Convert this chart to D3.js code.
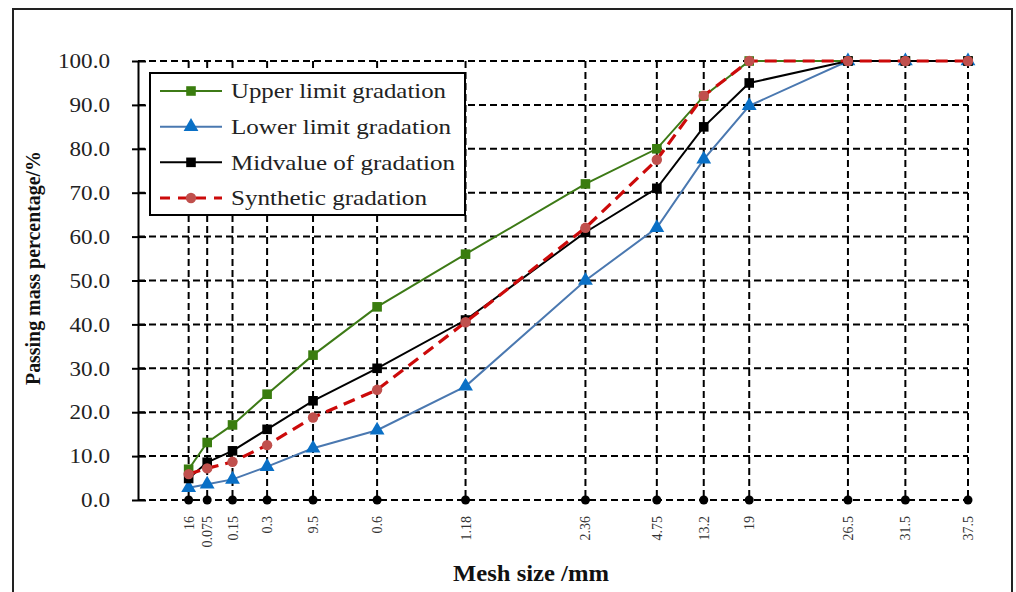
<!DOCTYPE html>
<html>
<head>
<meta charset="utf-8">
<script src="https://cdnjs.cloudflare.com/ajax/libs/d3/7.8.5/d3.min.js"></script>
<style>
  body { margin: 0; background: #fff; }
</style>
</head>
<body>
<script>
// sieve sizes (mm) and the tick labels as printed under them
var sizes = [0.075, 0.15, 0.3, 0.6, 1.18, 2.36, 4.75, 9.5, 13.2, 16, 19, 26.5, 31.5, 37.5];
var tickLabels = ["16", "0.075", "0.15", "0.3", "9.5", "0.6", "1.18", "2.36", "4.75", "13.2", "19", "26.5", "31.5", "37.5"];
var yTicks = [0, 10, 20, 30, 40, 50, 60, 70, 80, 90, 100];

var upper = [7.0, 13.1, 17.1, 24.1, 33.0, 44.0, 56.0, 72.0, 80.0, 92.0, 100, 100, 100, 100];
var lower = [2.8, 3.6, 4.7, 7.6, 11.8, 15.9, 25.9, 50.0, 62.0, 77.6, 89.8, 100, 100, 100];
var mid = [4.9, 8.6, 11.2, 16.1, 22.6, 30.0, 41.0, 61.0, 71.0, 85.0, 95.0, 100, 100, 100];
var synthetic = [5.9, 7.2, 8.7, 12.5, 18.8, 25.1, 40.5, 62.0, 77.5, 92.1, 100, 100, 100, 100];

var seriesNames = ["Upper limit gradation", "Lower limit gradation", "Midvalue of gradation", "Synthetic gradation"];

function draw_chart(elem) {

    var W = 1016, H = 592;
    var serif = '"Liberation Serif", "Times New Roman", serif';

    var left = 138, right = 968, top = 61, bottom = 500;

    var svg = d3.select(elem)
        .append("svg")
        .attr("width", W)
        .attr("height", H);

    // outer frame
    svg.append("rect")
        .attr("x", 13).attr("y", 9)
        .attr("width", 999).attr("height", 600)
        .attr("fill", "white")
        .attr("stroke", "#222")
        .attr("stroke-width", 2);

    var x = d3.scalePow().exponent(0.45)
        .domain([0, 37.5])
        .range([left, right]);

    var y = d3.scaleLinear()
        .domain([0, 100])
        .range([bottom, top]);

    var grid = svg.append("g");

    // horizontal dashed grid
    grid.selectAll("line.h")
        .data(yTicks)
        .enter().append("line")
        .attr("x1", left).attr("x2", right)
        .attr("y1", d => y(d)).attr("y2", d => y(d))
        .attr("stroke", "black")
        .attr("stroke-width", 2)
        .attr("stroke-dasharray", "7,4");

    // vertical dashed grid
    grid.selectAll("line.v")
        .data(sizes)
        .enter().append("line")
        .attr("x1", d => x(d)).attr("x2", d => x(d))
        .attr("y1", top).attr("y2", bottom)
        .attr("stroke", "black")
        .attr("stroke-width", 2)
        .attr("stroke-dasharray", "7,4");

    // y axis
    var yAxis = d3.axisLeft(y)
        .tickValues(yTicks)
        .tickFormat(d3.format(".1f"))
        .tickSizeInner(6)
        .tickSizeOuter(0);

    var gy = svg.append("g")
        .attr("transform", "translate(" + left + ",0)")
        .call(yAxis);
    gy.select(".domain").attr("stroke", "black").attr("stroke-width", 2);
    gy.selectAll(".tick line")
        .attr("x1", -6).attr("x2", 8)
        .attr("stroke", "black").attr("stroke-width", 2);
    gy.selectAll(".tick text")
        .attr("font-family", serif)
        .attr("font-size", "21px")
        .attr("fill", "#222")
        .attr("transform", "scale(1.1,1)")
        .attr("x", -25.5);

    // x tick labels (rotated)
    svg.append("g").selectAll("text")
        .data(sizes)
        .enter().append("text")
        .text((d, i) => tickLabels[i])
        .attr("transform", d => "translate(" + (x(d) + 5) + ",516) rotate(-90)")
        .attr("text-anchor", "end")
        .attr("font-family", serif)
        .attr("font-size", "14px")
        .attr("fill", "#333");

    // black dots along zero line
    svg.append("g").selectAll("circle")
        .data(sizes)
        .enter().append("circle")
        .attr("cx", d => x(d))
        .attr("cy", y(0))
        .attr("r", 4.5)
        .attr("fill", "black");

    var line = d3.line()
        .x((d, i) => x(sizes[i]))
        .y(d => y(d));

    var series = [
        { values: upper, line: "#3d7a16", marker: "#3a7d0f", dash: null, width: 2, sym: d3.symbolSquare, size: 92 },
        { values: lower, line: "#4a78b0", marker: "#0a70c6", dash: null, width: 2, sym: d3.symbolTriangle, size: 95 },
        { values: mid, line: "black", marker: "black", dash: null, width: 2, sym: d3.symbolSquare, size: 92 },
        { values: synthetic, line: "#cc0a0a", marker: "#c0504d", dash: "12,7", width: 3.2, sym: d3.symbolCircle, size: 85 }
    ];

    series.forEach(function(s) {
        var g = svg.append("g");
        g.append("path")
            .attr("d", line(s.values))
            .attr("fill", "none")
            .attr("stroke", s.line)
            .attr("stroke-width", s.width)
            .attr("stroke-dasharray", s.dash);
        g.selectAll("path.m")
            .data(s.values)
            .enter().append("path")
            .attr("d", d3.symbol().type(s.sym).size(s.size))
            .attr("transform", (d, i) => "translate(" + x(sizes[i]) + "," + y(d) + ")")
            .attr("fill", s.marker);
    });

    // legend
    var lg = svg.append("g");
    lg.append("rect")
        .attr("x", 150).attr("y", 73)
        .attr("width", 315).attr("height", 142)
        .attr("fill", "white")
        .attr("stroke", "black")
        .attr("stroke-width", 2);

    var rowY = d3.scalePoint().domain(seriesNames).range([91, 198]);

    series.forEach(function(s, i) {
        var ry = rowY(seriesNames[i]);
        lg.append("line")
            .attr("x1", 160).attr("x2", 222)
            .attr("y1", ry).attr("y2", ry)
            .attr("stroke", s.line)
            .attr("stroke-width", s.width)
            .attr("stroke-dasharray", s.dash ? "10,8" : null);
        lg.append("path")
            .attr("d", d3.symbol().type(s.sym).size(s.size))
            .attr("transform", "translate(191," + ry + ")")
            .attr("fill", s.marker);
        lg.append("text")
            .text(seriesNames[i])
            .attr("x", 231)
            .attr("y", ry)
            .attr("dy", "0.35em")
            .attr("font-family", serif)
            .attr("font-size", "21px")
            .attr("textLength", [215, 220, 224, 196][i])
            .attr("lengthAdjust", "spacingAndGlyphs")
            .attr("fill", "#222");
    });

    // axis titles
    svg.append("text")
        .text("Mesh size /mm")
        .attr("x", 531)
        .attr("y", 581)
        .attr("text-anchor", "middle")
        .attr("font-family", serif)
        .attr("font-weight", "bold")
        .attr("font-size", "23px")
        .attr("textLength", 156)
        .attr("lengthAdjust", "spacingAndGlyphs")
        .attr("fill", "#111");

    svg.append("text")
        .text("Passing mass percentage/%")
        .attr("transform", "translate(40,268) rotate(-90)")
        .attr("text-anchor", "middle")
        .attr("font-family", serif)
        .attr("font-weight", "bold")
        .attr("font-size", "20px")
        .attr("textLength", 234)
        .attr("lengthAdjust", "spacingAndGlyphs")
        .attr("fill", "#111");
}

draw_chart("body");
</script>
</body>
</html>
